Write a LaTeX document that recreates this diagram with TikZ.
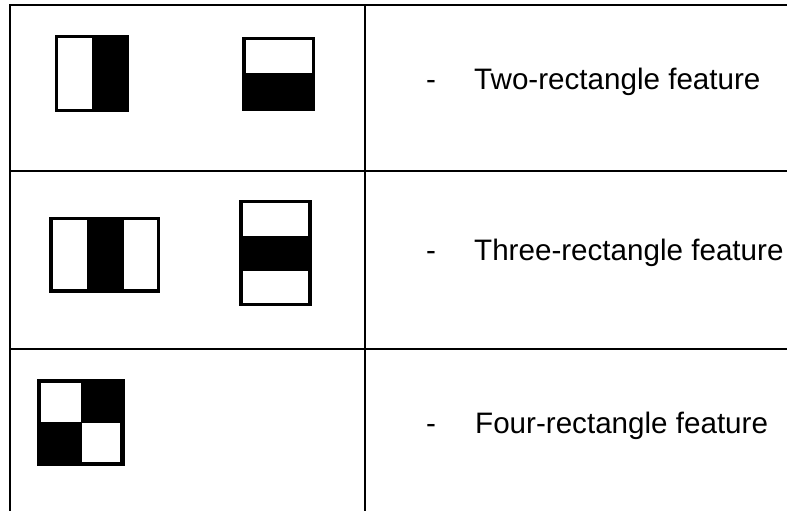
\documentclass[tikz,border=0pt]{standalone}
\usepackage{fontspec}
\setmainfont{Liberation Sans}
\begin{document}
\begin{tikzpicture}[x=1pt,y=-1pt,
  gridline/.style={line width=2.5pt,black},
  blk/.style={fill=black},
  wht/.style={fill=white},
  lbl/.style={anchor=base west,inner sep=0pt,font=\fontsize{29.6}{34}\selectfont},
  dashlbl/.style={anchor=base,inner sep=0pt,font=\fontsize{29.6}{34}\selectfont}]
\useasboundingbox (0,0) rectangle (787,511);
\fill[white] (0,0) rectangle (787,511);
% grid
\draw[gridline] (787,5) -- (10,5) -- (10,511);
\draw[gridline] (365,5) -- (365,511);
\draw[gridline] (10,171) -- (787,171);
\draw[gridline] (10,349) -- (787,349);
% two-rectangle (vertical split)
\fill[blk] (55,35) rectangle (129,112);
\fill[wht] (58,38) rectangle (92,109);
% two-rectangle (horizontal split)
\fill[blk] (242,37) rectangle (315,111);
\fill[wht] (246,40) rectangle (312,73);
% three-rectangle (vertical)
\fill[blk] (49,217) rectangle (160,293);
\fill[wht] (53,220) rectangle (87,289);
\fill[wht] (124,220) rectangle (157,289);
% three-rectangle (horizontal)
\fill[blk] (239,200) rectangle (312,306);
\fill[wht] (243,203) rectangle (308,236);
\fill[wht] (243,271) rectangle (308,303);
% four-rectangle
\fill[blk] (37,379) rectangle (125,466);
\fill[wht] (41,383) rectangle (81,422);
\fill[wht] (82,423) rectangle (120,462);
% labels
\node[dashlbl] (d1) at (431,89) {-};
\node[lbl] (t1) at (474,89) {Two-rectangle feature};
\node[dashlbl] (d2) at (431,260) {-};
\node[lbl] (t2) at (474,260) {Three-rectangle feature};
\node[dashlbl] (d3) at (431,433) {-};
\node[lbl] (t3) at (475,433) {Four-rectangle feature};
\end{tikzpicture}
\end{document}
